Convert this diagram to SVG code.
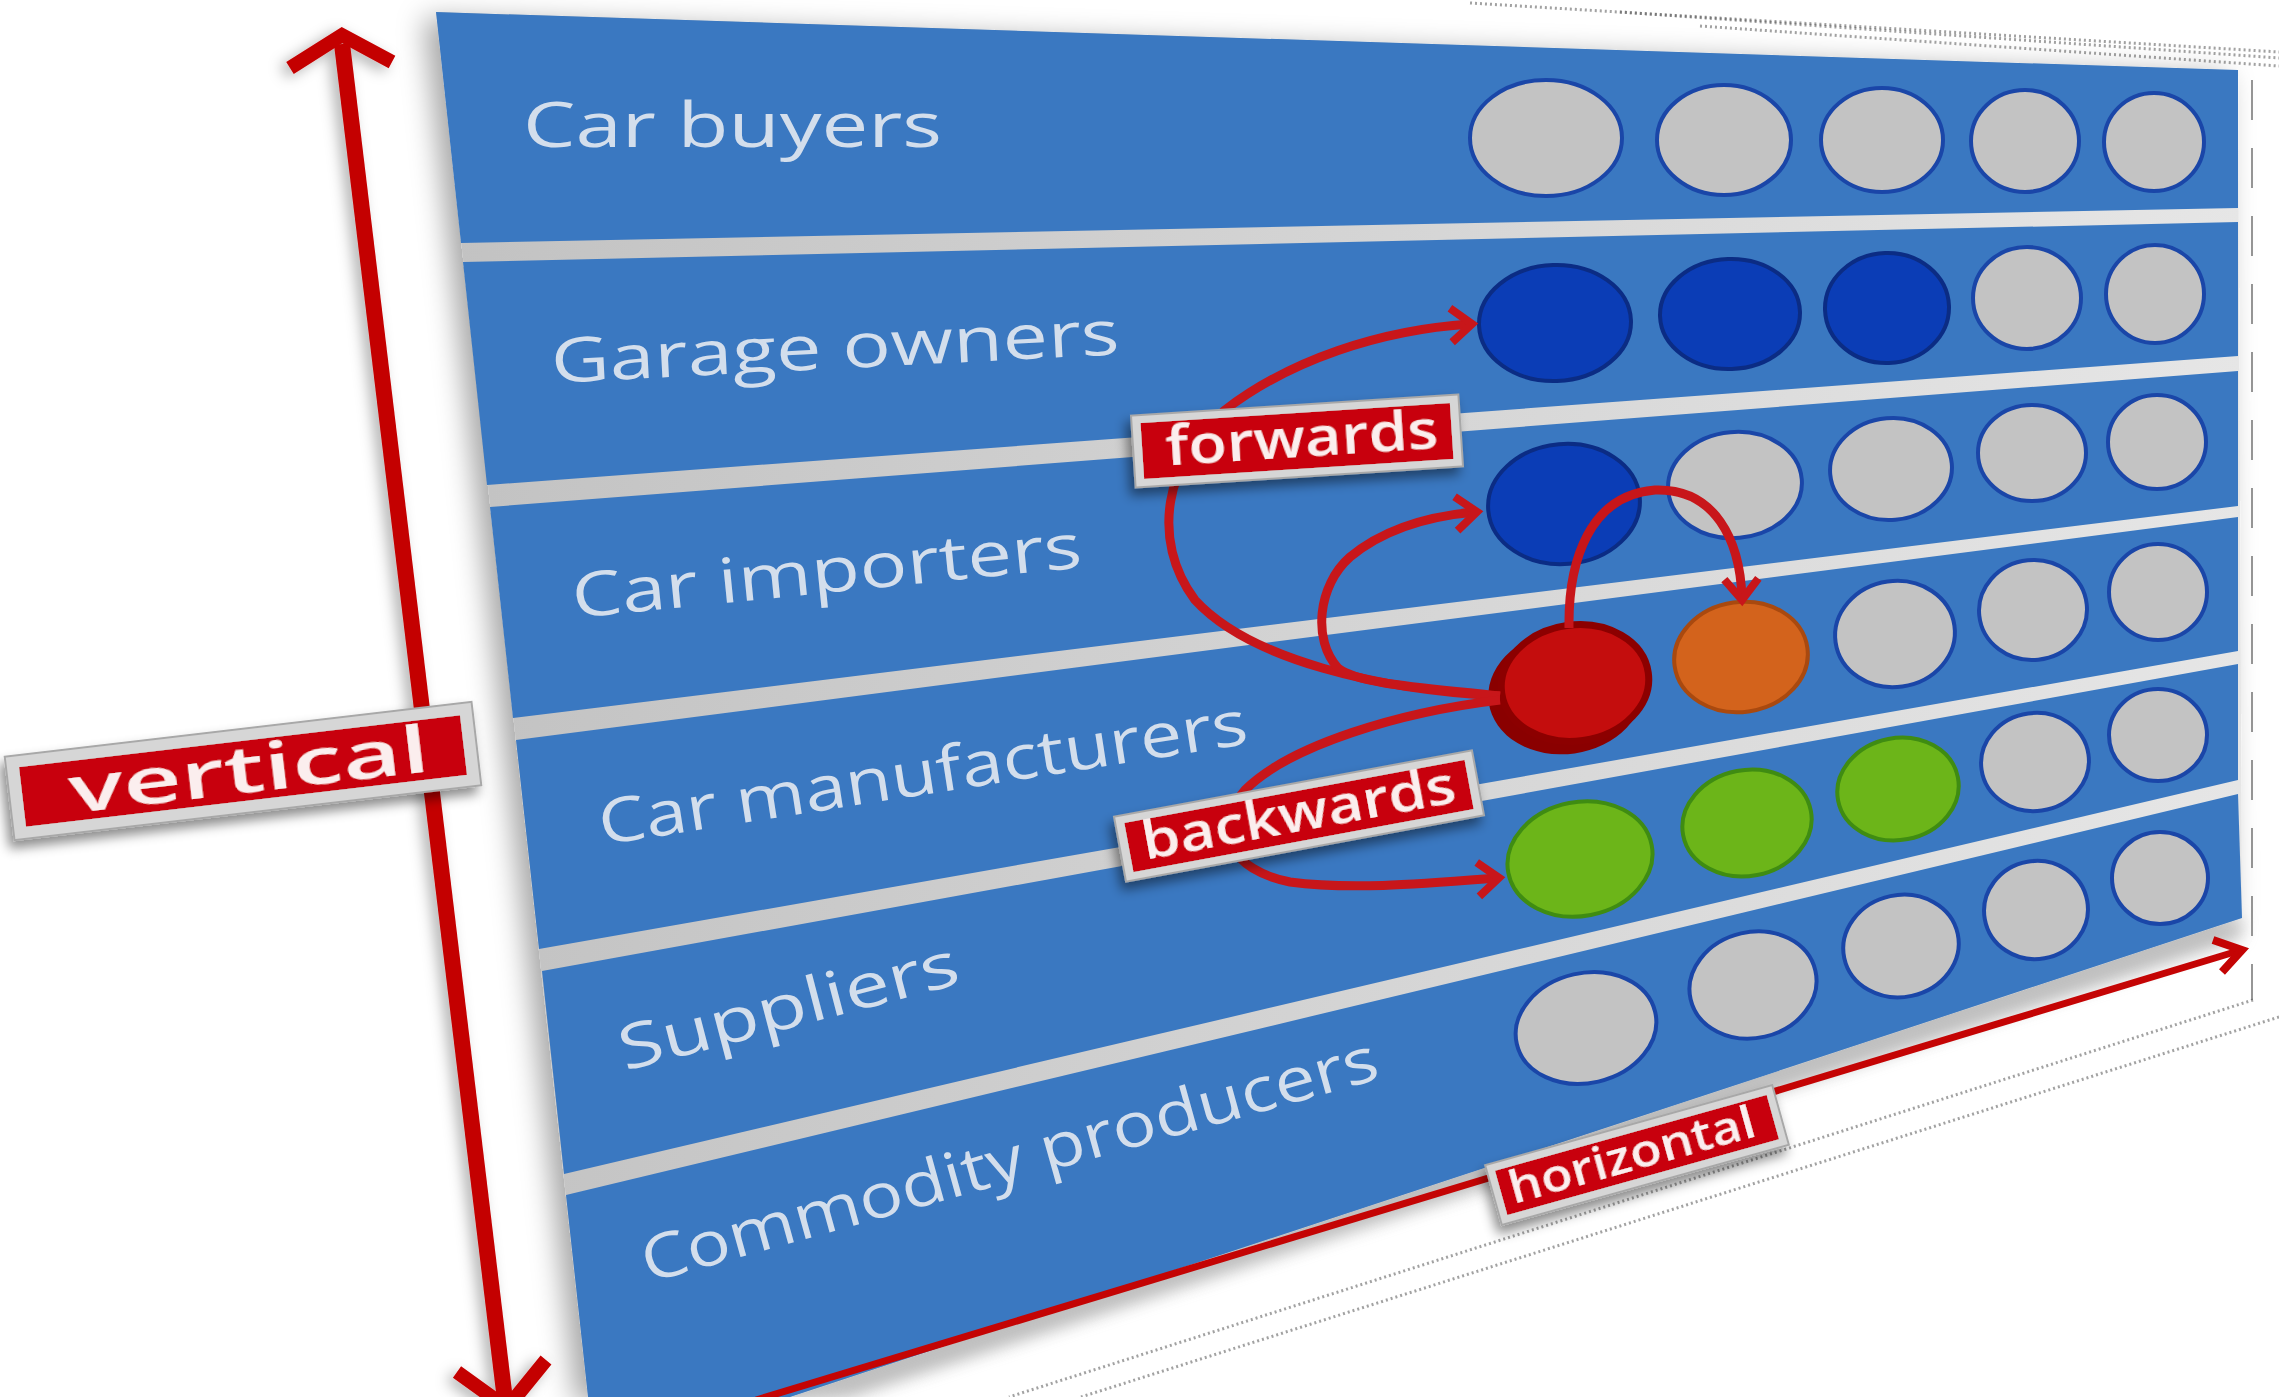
<svg xmlns="http://www.w3.org/2000/svg" width="2279" height="1397" viewBox="0 0 2279 1397">
<defs>
<style>
.band{fill:#3a78c1}
.lbl{font-family:"Open Sans","Noto Sans","Liberation Sans",sans-serif;font-size:62px;fill:#d3deec}
.g{fill:#c3c3c3;stroke:#1a46a8;stroke-width:4}
.b{fill:#0b3db6;stroke:#0b2c84;stroke-width:4}
.o{fill:#d3631c;stroke:#a9490f;stroke-width:4}
.gr{fill:#6cb519;stroke:#3f8c12;stroke-width:4}
.r{fill:#c40d0d;stroke:#8c0000;stroke-width:7}
.arr{fill:none;stroke:#c8161a;stroke-width:9}
.axis{fill:none;stroke:#c40404}
.boxo{fill:#d6d6d6;stroke:#a8a8a8;stroke-width:2}
.boxi{fill:#c8050c}
.btxt{font-family:"Open Sans","Noto Sans","Liberation Sans",sans-serif;font-weight:600;fill:#fbeeee;text-anchor:middle}
.dots{fill:none;stroke:#555555;stroke-width:3;stroke-dasharray:2 3;opacity:0.55}
</style>
<filter id="psh" x="-10%" y="-10%" width="120%" height="120%">
<feDropShadow dx="-12" dy="6" stdDeviation="14" flood-color="#000" flood-opacity="0.35"/>
</filter>
<filter id="lsh" x="-20%" y="-40%" width="140%" height="180%">
<feDropShadow dx="-5" dy="7" stdDeviation="6" flood-color="#000" flood-opacity="0.45"/>
</filter>
<filter id="ash" x="-50%" y="-5%" width="200%" height="110%">
<feDropShadow dx="-6" dy="4" stdDeviation="7" flood-color="#000" flood-opacity="0.3"/>
</filter>
<filter id="blur" x="-10%" y="-30%" width="120%" height="160%"><feGaussianBlur stdDeviation="8"/></filter>
<linearGradient id="gapg" x1="0" y1="0" x2="1" y2="0">
<stop offset="0" stop-color="#c2c2c2"/>
<stop offset="1" stop-color="#e6e6e6"/>
</linearGradient>
<marker id="ah" viewBox="0 0 30 40" refX="22" refY="20" markerWidth="30" markerHeight="40" markerUnits="userSpaceOnUse" orient="auto" overflow="visible">
<path d="M3,3 L24,20 L3,37" fill="none" stroke="#c8161a" stroke-width="8"/>
</marker>
</defs>

<rect width="2279" height="1397" fill="#ffffff"/>

<g id="reflection">
<path class="dots" d="M1470,3 L2279,52"/>
<path class="dots" d="M1620,12 L2279,58"/>
<path class="dots" d="M1700,26 L2279,66"/>
<path d="M2252,80 L2252,1000" fill="none" stroke="#6a6a6a" stroke-width="2" stroke-dasharray="40 28" opacity="0.7"/>
<path class="dots" d="M2253,1000 L1009,1397"/>
<path class="dots" d="M2279,1017 L1081,1397"/>
</g>

<g id="panel">
<polygon points="436,12 2238,70 2242,918 790,1397 588,1397" fill="url(#gapg)" filter="url(#psh)"/>
<polygon points="790,1397 2242,918 2242,938 850,1397" fill="#9a9a9a" filter="url(#blur)" opacity="0.55"/>
</g>

<g id="band-car-buyers">
<polygon class="band" points="436,12 2238,70 2238,208 461,243"/>
<text class="lbl" x="523" y="147" textLength="419" lengthAdjust="spacingAndGlyphs">Car buyers</text>
<ellipse class="g" cx="1546" cy="138" rx="76" ry="58"/>
<ellipse class="g" cx="1724" cy="140" rx="67" ry="55"/>
<ellipse class="g" cx="1882" cy="140" rx="61" ry="52"/>
<ellipse class="g" cx="2025" cy="141" rx="54" ry="51"/>
<ellipse class="g" cx="2154" cy="142" rx="50" ry="49"/>
</g>

<g id="band-garage-owners">
<polygon class="band" points="463,262 2238,222 2238,356 487,485"/>
<text class="lbl" x="552" y="383" textLength="569" lengthAdjust="spacingAndGlyphs" transform="rotate(-2.9 552 383)">Garage owners</text>
<ellipse class="b" cx="1555" cy="323" rx="76" ry="58" transform="rotate(-2 1555 323)"/>
<ellipse class="b" cx="1730" cy="314" rx="70" ry="55" transform="rotate(-2 1730 314)"/>
<ellipse class="b" cx="1887" cy="308" rx="62" ry="55" transform="rotate(-2 1887 308)"/>
<ellipse class="g" cx="2027" cy="298" rx="54" ry="51"/>
<ellipse class="g" cx="2155" cy="294" rx="49" ry="49"/>
</g>

<g id="band-car-importers">
<polygon class="band" points="490,507 2238,371 2238,506 513,718"/>
<text class="lbl" x="574" y="618" textLength="512" lengthAdjust="spacingAndGlyphs" transform="rotate(-5.7 574 618)">Car importers</text>
<ellipse class="b" cx="1564" cy="504" rx="76" ry="60" transform="rotate(-5 1564 504)"/>
<ellipse class="g" cx="1735" cy="485" rx="67" ry="53" transform="rotate(-5 1735 485)"/>
<ellipse class="g" cx="1891" cy="469" rx="61" ry="51" transform="rotate(-5 1891 469)"/>
<ellipse class="g" cx="2032" cy="453" rx="54" ry="48"/>
<ellipse class="g" cx="2157" cy="442" rx="49" ry="47"/>
</g>

<g id="band-car-manufacturers">
<polygon class="band" points="516,740 2238,517 2238,651 539,949"/>
<text class="lbl" x="602" y="845" textLength="656" lengthAdjust="spacingAndGlyphs" transform="rotate(-8.9 602 845)">Car manufacturers</text>
<ellipse cx="1566" cy="692" rx="78" ry="62" fill="#8a0000" transform="rotate(-8 1566 692)"/>
<ellipse class="r" cx="1575" cy="683" rx="74" ry="58" transform="rotate(-8 1575 683)"/>
<ellipse class="o" cx="1741" cy="657" rx="67" ry="55" transform="rotate(-8 1741 657)"/>
<ellipse class="g" cx="1895" cy="634" rx="60" ry="53" transform="rotate(-8 1895 634)"/>
<ellipse class="g" cx="2033" cy="610" rx="54" ry="50" transform="rotate(-6 2033 610)"/>
<ellipse class="g" cx="2158" cy="592" rx="49" ry="48"/>
</g>

<g id="band-suppliers">
<polygon class="band" points="542,971 2238,664 2238,780 564,1174"/>
<text class="lbl" x="625" y="1071" textLength="349" lengthAdjust="spacingAndGlyphs" transform="rotate(-14.6 625 1071)">Suppliers</text>
<ellipse class="gr" cx="1580" cy="859" rx="73" ry="57" transform="rotate(-11 1580 859)"/>
<ellipse class="gr" cx="1747" cy="823" rx="65" ry="53" transform="rotate(-11 1747 823)"/>
<ellipse class="gr" cx="1898" cy="789" rx="61" ry="51" transform="rotate(-11 1898 789)"/>
<ellipse class="g" cx="2035" cy="762" rx="54" ry="49" transform="rotate(-8 2035 762)"/>
<ellipse class="g" cx="2158" cy="735" rx="49" ry="46"/>
</g>

<g id="band-commodity-producers">
<polygon class="band" points="566,1195 2238,794 2242,918 790,1397 588,1397"/>
<text class="lbl" x="648" y="1283" textLength="762" lengthAdjust="spacingAndGlyphs" transform="rotate(-15.6 648 1283)">Commodity producers</text>
<ellipse class="g" cx="1586" cy="1028" rx="71" ry="55" transform="rotate(-13 1586 1028)"/>
<ellipse class="g" cx="1753" cy="985" rx="64" ry="53" transform="rotate(-13 1753 985)"/>
<ellipse class="g" cx="1901" cy="946" rx="58" ry="51" transform="rotate(-12 1901 946)"/>
<ellipse class="g" cx="2036" cy="910" rx="52" ry="49" transform="rotate(-10 2036 910)"/>
<ellipse class="g" cx="2160" cy="878" rx="48" ry="46"/>
</g>

<g id="connectors">
<path class="arr" marker-end="url(#ah)" d="M1500,696 C1380,690 1250,660 1195,600 C1150,540 1165,460 1225,410 C1290,360 1380,330 1470,324"/>
<path class="arr" marker-end="url(#ah)" d="M1500,696 C1430,688 1360,685 1338,668 C1312,640 1318,585 1350,557 C1385,528 1430,516 1475,512"/>
<path class="arr" marker-end="url(#ah)" d="M1569,628 C1568,560 1590,495 1655,490 C1715,488 1740,540 1742,598"/>
<path class="arr" marker-end="url(#ah)" d="M1500,700 C1400,712 1290,745 1245,790 C1210,830 1230,870 1290,882 C1350,890 1420,884 1497,878"/>
<g id="axis-vertical" filter="url(#ash)">
<path class="axis" stroke-width="16" d="M342,44 L505,1400"/>
<polyline class="axis" stroke-width="14" points="290,68 342,35 392,62"/>
<polyline class="axis" stroke-width="14" points="457,1372 507,1408 546,1360"/>
</g>
<g id="axis-horizontal">
<path class="axis" stroke-width="7" d="M756,1400 L2238,951"/>
<polyline class="axis" stroke-width="8" points="2213,940 2242,950 2222,972"/>
</g>
</g>

<g id="label-forwards" transform="translate(1297 441) rotate(-3.7)" filter="url(#lsh)">
<rect class="boxo" x="-164" y="-36" width="328" height="72"/>
<rect class="boxi" x="-155" y="-28" width="310" height="56"/>
<text class="btxt" x="5" y="16" font-size="54" textLength="273" lengthAdjust="spacingAndGlyphs">forwards</text>
</g>

<g id="label-backwards" transform="translate(1299 816) rotate(-10.5)" filter="url(#lsh)">
<rect class="boxo" x="-182" y="-33" width="364" height="66"/>
<rect class="boxi" x="-173" y="-25" width="346" height="50"/>
<text class="btxt" x="0" y="15" font-size="52" textLength="318" lengthAdjust="spacingAndGlyphs">backwards</text>
</g>

<g id="label-vertical" transform="translate(243 771) rotate(-6.7)" filter="url(#lsh)">
<rect class="boxo" x="-235" y="-42" width="470" height="84"/>
<rect class="boxi" x="-222" y="-30" width="444" height="60"/>
<text class="btxt" x="6" y="22" font-size="66" textLength="362" lengthAdjust="spacingAndGlyphs">vertical</text>
</g>

<g id="label-horizontal" transform="translate(1637 1155) rotate(-15.6)" filter="url(#lsh)">
<rect class="boxo" x="-149" y="-31" width="298" height="62"/>
<rect class="boxi" x="-141" y="-23" width="282" height="46"/>
<text class="btxt" x="-5" y="14" font-size="46" textLength="254" lengthAdjust="spacingAndGlyphs">horizontal</text>
</g>
</svg>
